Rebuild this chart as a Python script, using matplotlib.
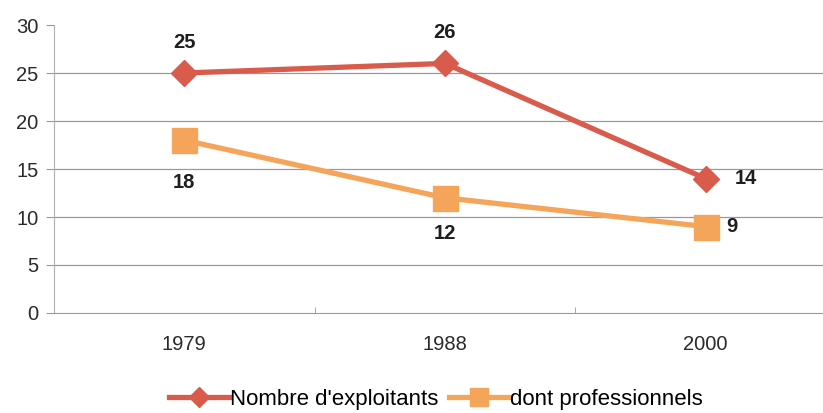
import matplotlib.pyplot as plt
import numpy as np

plt.rcParams['font.family'] = ['Liberation Sans', 'DejaVu Sans']

years = ['1979', '1988', '2000']
exploitants = [25, 26, 14]
professionnels = [18, 12, 9]

red = '#d95b4c'
orange = '#f4a55a'

fig = plt.figure(figsize=(8.23, 4.13), dpi=100)
ax = fig.add_axes([54 / 823, 100 / 413, 782 / 823, 288 / 413])

x = np.arange(len(years)) + 0.5

ax.plot(x, exploitants, color=red, lw=3.8, marker='D', ms=13.5,
        label="Nombre d'exploitants", zorder=3)
ax.plot(x, professionnels, color=orange, lw=3.8, marker='s', ms=18,
        label='dont professionnels', zorder=3)

# value labels
offsets_a = [(0, 31, 'center'), (0, 31, 'center'), (40, 0, 'center')]
for xi, v, (dx, dy, ha) in zip(x, exploitants, offsets_a):
    ax.annotate(str(v), (xi, v), xytext=(dx, dy), textcoords='offset pixels',
                ha=ha, va='center', fontsize=14.5, fontweight='bold', color='#1e1e1e')
offsets_p = [(0, -42, 'center'), (0, -36, 'center'), (26, 0, 'center')]
for xi, v, (dx, dy, ha) in zip(x, professionnels, offsets_p):
    ax.annotate(str(v), (xi, v), xytext=(dx, dy), textcoords='offset pixels',
                ha=ha, va='center', fontsize=14.5, fontweight='bold', color='#1e1e1e')

ax.set_xlim(0, 3)
ax.set_ylim(0, 30)
ax.set_yticks(range(0, 31, 5))
ax.set_xticks(x)
ax.set_xticklabels(years)
ax.set_xticks([0, 1, 2, 3], minor=True)
ax.tick_params(axis='x', which='major', length=0, pad=16, labelsize=14.5, labelcolor='#2a2a2a')
ax.tick_params(axis='x', which='minor', length=4, color='#999999', direction='in')
ax.tick_params(axis='y', length=6, color='#999999', labelsize=14.5, labelcolor='#2a2a2a', pad=5)

for y in range(5, 30, 5):
    ax.axhline(y, color='#999999', lw=0.9, zorder=1)

for s in ['top', 'right']:
    ax.spines[s].set_visible(False)
ax.spines['left'].set_color('#b0b0b0')
ax.spines['bottom'].set_color('#999999')

fig.legend(loc='center', bbox_to_anchor=(436 / 823, 1 - 399 / 413), ncol=2,
           frameon=False, fontsize=16, handlelength=2.7, columnspacing=0.5,
           handletextpad=0.05, markerscale=0.75, borderpad=0)

fig.savefig('out.png', dpi=100)
